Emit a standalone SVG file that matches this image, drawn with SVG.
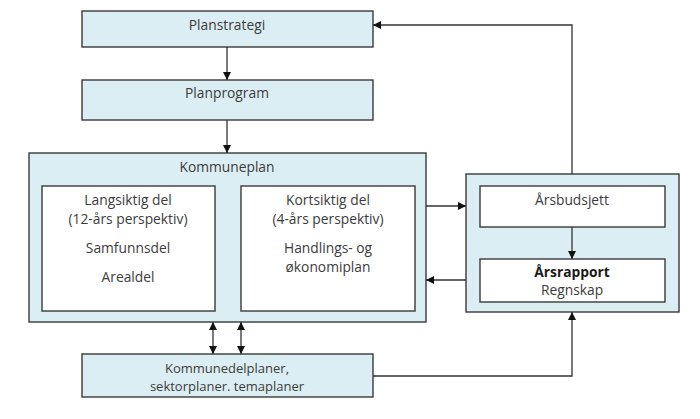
<svg xmlns="http://www.w3.org/2000/svg" width="700" height="419" viewBox="0 0 700 419">
<style>
.box{fill:#dbeef3;stroke:#3a3a3a;stroke-width:1.4}
.inner{fill:#ffffff;stroke:#3a3a3a;stroke-width:1.4}
.t{font-family:"Open Sans","Liberation Sans",sans-serif;font-size:13.8px;fill:#3c3c3c;text-anchor:middle}
.s{font-size:13px}
.b{font-weight:bold;fill:#1a1a1a}
.c{fill:none;stroke:#333;stroke-width:1.3}
</style>
<defs>
<marker id="ah" viewBox="0 0 10 10" refX="10" refY="5" markerWidth="8" markerHeight="8" markerUnits="userSpaceOnUse" orient="auto-start-reverse">
<path d="M0,0 L10,5 L0,10 z" fill="#111"/>
</marker>
</defs>
<rect width="700" height="419" fill="#ffffff"/>
<g id="planstrategi">
<rect class="box" x="82" y="11" width="291" height="36"/>
<text class="t" x="227" y="30">Planstrategi</text>
</g>
<g id="planprogram">
<rect class="box" x="82" y="80" width="291" height="40"/>
<text class="t" x="227" y="98">Planprogram</text>
</g>
<g id="kommuneplan">
<rect class="box" x="29" y="153" width="397" height="169"/>
<text class="t" x="227" y="172">Kommuneplan</text>
</g>
<g id="langsiktig">
<rect class="inner" x="42" y="186" width="173" height="125"/>
<text class="t" x="128" y="205">Langsiktig del</text>
<text class="t" x="128" y="224">(12-års perspektiv)</text>
<text class="t" x="128" y="253">Samfunnsdel</text>
<text class="t" x="128" y="282">Arealdel</text>
</g>
<g id="kortsiktig">
<rect class="inner" x="241" y="186" width="174" height="125"/>
<text class="t" x="328" y="205">Kortsiktig del</text>
<text class="t" x="328" y="224">(4-års perspektiv)</text>
<text class="t" x="328" y="253">Handlings- og</text>
<text class="t" x="328" y="272">økonomiplan</text>
</g>
<g id="budsjett-gruppe">
<rect class="box" x="466" y="174" width="213" height="138"/>
</g>
<g id="arsbudsjett">
<rect class="inner" x="480" y="186" width="185" height="41"/>
<text class="t" x="572" y="205">Årsbudsjett</text>
</g>
<g id="arsrapport">
<rect class="inner" x="480" y="259" width="185" height="43"/>
<text class="t b" x="572" y="277">Årsrapport</text>
<text class="t" x="572" y="295">Regnskap</text>
</g>
<g id="kommunedelplaner">
<rect class="box" x="82" y="354" width="291" height="43"/>
<text class="t s" x="227" y="373">Kommunedelplaner,</text>
<text class="t s" x="227" y="391">sektorplaner. temaplaner</text>
</g>
<g id="connectors">
<path class="c" d="M227,47 V80" marker-end="url(#ah)"/>
<path class="c" d="M227,120 V153" marker-end="url(#ah)"/>
<path class="c" d="M572,227 V259" marker-end="url(#ah)"/>
<path class="c" d="M572,174 V25 H373" marker-end="url(#ah)"/>
<path class="c" d="M426,206 H466" marker-end="url(#ah)"/>
<path class="c" d="M466,280 H426" marker-end="url(#ah)"/>
<path class="c" d="M373,376 H572 V312" marker-end="url(#ah)"/>
<path class="c" d="M213,322 V354" marker-start="url(#ah)" marker-end="url(#ah)"/>
<path class="c" d="M241,322 V354" marker-start="url(#ah)" marker-end="url(#ah)"/>
</g>
</svg>
